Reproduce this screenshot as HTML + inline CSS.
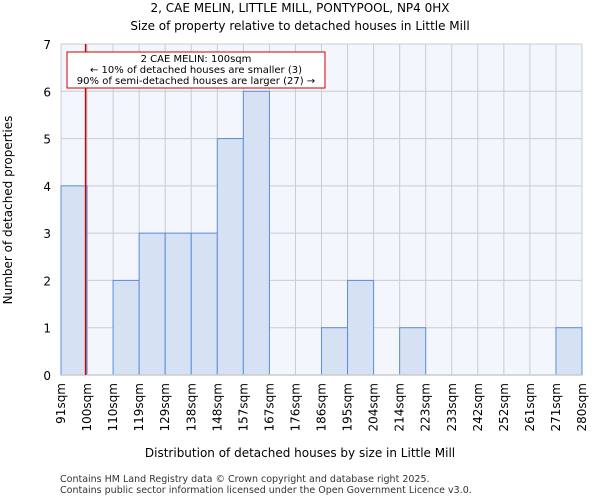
<!DOCTYPE html>
<html><head><meta charset="utf-8"><style>
body{margin:0;background:#fff;font-family:"DejaVu Sans","Liberation Sans",sans-serif}
</style></head><body>
<svg width="600" height="500" xmlns="http://www.w3.org/2000/svg" font-family="DejaVu Sans, Liberation Sans, sans-serif">
<text x="300" y="12" text-anchor="middle" font-size="12">2, CAE MELIN, LITTLE MILL, PONTYPOOL, NP4 0HX</text>
<text x="300" y="30" text-anchor="middle" font-size="12">Size of property relative to detached houses in Little Mill</text>
<rect x="61" y="44" width="521" height="331" fill="#f3f6fd"/>
<g id="grid"></g><g id="bars"></g><g id="axes"></g>
<line x1="85.6" y1="44" x2="85.6" y2="375" stroke="#cc0000" stroke-width="1.5"/>
<rect x="67" y="52" width="258" height="36" fill="#fff" stroke="#cc0000" stroke-width="1"/>
<text x="196" y="62" text-anchor="middle" font-size="10">2 CAE MELIN: 100sqm</text>
<text x="196" y="73" text-anchor="middle" font-size="10">← 10% of detached houses are smaller (3)</text>
<text x="196" y="84" text-anchor="middle" font-size="10">90% of semi-detached houses are larger (27) →</text>
<text x="300" y="457" text-anchor="middle" font-size="12">Distribution of detached houses by size in Little Mill</text>
<text transform="translate(12,210) rotate(-90)" text-anchor="middle" font-size="12">Number of detached properties</text>
<text x="60" y="482" font-size="9.5" fill="#333">Contains HM Land Registry data © Crown copyright and database right 2025.</text>
<text x="60" y="493" font-size="9.5" fill="#333">Contains public sector information licensed under the Open Government Licence v3.0.</text>
</svg>
<script>
const binLabels=["91sqm","100sqm","110sqm","119sqm","129sqm","138sqm","148sqm","157sqm","167sqm","176sqm","186sqm","195sqm","204sqm","214sqm","223sqm","233sqm","242sqm","252sqm","261sqm","271sqm","280sqm"];
const counts=[4,0,2,3,3,3,5,6,0,0,1,2,0,1,0,0,0,0,0,1];
const yTicks=[0,1,2,3,4,5,6,7];
const NS="http://www.w3.org/2000/svg";
const X0=61,X1=582,Y0=375,Y1=44,YMAX=7;
const bw=(X1-X0)/counts.length;
const xs=i=>X0+i*bw;
const ys=v=>Y0-(v/YMAX)*(Y0-Y1);
function mk(t,a,p){const e=document.createElementNS(NS,t);for(const k in a)e.setAttribute(k,a[k]);p.appendChild(e);return e;}
const g=document.getElementById('grid'),b=document.getElementById('bars'),ax=document.getElementById('axes');
yTicks.forEach(v=>{
 const l=mk('line',{x1:X0,x2:X1,y1:ys(v),y2:ys(v),stroke:'#c8ccd4','stroke-width':1},g);
 
 
 const t=mk('text',{x:X0-10,y:ys(v)+5,'text-anchor':'end','font-size':12},ax);
 t.textContent=v;
 
 
});
binLabels.forEach((s,i)=>{
 const l=mk('line',{x1:xs(i),x2:xs(i),y1:Y1,y2:Y0,stroke:'#c8ccd4','stroke-width':1},g);
 
 
 const t=mk('text',{transform:`translate(${xs(i)+4},${Y0+8}) rotate(-90)`,'text-anchor':'end','font-size':12},ax);
 t.textContent=s;
 
 
});
counts.forEach((v,i)=>{
 if(v<=0)return;
 const r=mk('rect',{x:xs(i),y:ys(v),width:bw,height:Y0-ys(v),fill:'#d6e1f3',stroke:'#5b8fd9','stroke-width':1},b);
 
 
});
const base=mk('line',{x1:X0,x2:X1,y1:Y0,y2:Y0,stroke:'#c8ccd4','stroke-width':1.5},ax);


</script>
</body></html>
